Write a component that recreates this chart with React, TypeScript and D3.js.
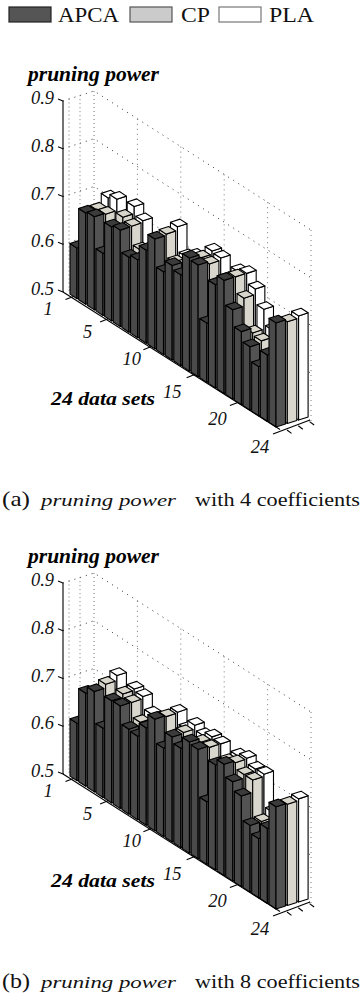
import React from "react";
import * as d3 from "d3";

const width = 362;
const height = 1001;

const dataSets = d3.range(1, 25);

// values, index 0 = data set 1
const apca4 = [0.606, 0.691, 0.695, 0.63, 0.697, 0.702, 0.657, 0.663, 0.695, 0.73, 0.673, 0.698, 0.69, 0.737, 0.734, 0.624, 0.716, 0.737, 0.687, 0.653, 0.633, 0.603, 0.639, 0.718];
const cp4 = [0.6, 0.69, 0.693, 0.66, 0.71, 0.703, 0.665, 0.66, 0.68, 0.733, 0.685, 0.69, 0.7, 0.73, 0.729, 0.65, 0.72, 0.737, 0.704, 0.643, 0.638, 0.6, 0.63, 0.713];
const pla4 = [0.61, 0.708, 0.717, 0.67, 0.725, 0.707, 0.655, 0.65, 0.69, 0.741, 0.69, 0.703, 0.71, 0.737, 0.734, 0.65, 0.729, 0.737, 0.716, 0.685, 0.653, 0.6, 0.63, 0.718];

const apca8 = [0.62, 0.695, 0.71, 0.645, 0.714, 0.715, 0.678, 0.675, 0.704, 0.734, 0.685, 0.72, 0.708, 0.733, 0.729, 0.631, 0.72, 0.733, 0.708, 0.69, 0.64, 0.624, 0.657, 0.714];
const cp8 = [0.61, 0.69, 0.718, 0.66, 0.721, 0.715, 0.685, 0.67, 0.69, 0.732, 0.7, 0.722, 0.71, 0.725, 0.726, 0.66, 0.72, 0.729, 0.716, 0.716, 0.641, 0.62, 0.65, 0.712];
const pla8 = [0.62, 0.7, 0.729, 0.67, 0.724, 0.72, 0.695, 0.68, 0.7, 0.734, 0.71, 0.73, 0.72, 0.729, 0.726, 0.67, 0.724, 0.731, 0.72, 0.721, 0.653, 0.62, 0.65, 0.716];

const seriesNames = ["APCA", "CP", "PLA"];
const valueTicks = [0.5, 0.6, 0.7, 0.8, 0.9];
const dataSetTicks = [1, 5, 10, 15, 20];
const dataSetLabels = [1, 5, 10, 15, 20, 24];
const wallTicks = [5, 10, 15, 20, 25];
const depthTicks = [0, 1, 2];

const faceColors = [
  { left: "#4a4a4a", right: "#535353", top: "#3b3b3b" },
  { left: "#d3d0c8", right: "#d9d6ce", top: "#d8d5cb" },
  { left: "#ffffff", right: "#ffffff", top: "#ffffff" }
];
const swatchColors = ["#555555", "#cbcbcb", "#ffffff"];
const swatchStrokes = ["#222222", "#555555", "#777777"];

// oblique projection of the bar3 plot
const nearX = d3.scaleLinear().domain([1, 24]).range([77, 276]);
const baseY = d3.scaleLinear().domain([1, 24]).range([298.7, 427]);
const depthX = d3.scaleLinear().domain([0, 2]).range([0, 22.6]);
const depthY = d3.scaleLinear().domain([0, 2]).range([0, -7]);
const barHeight = d3.scaleLinear().domain([0.5, 0.9]).range([0, 191]);
const axisY = d3.scaleLinear().domain([0.5, 0.9]).range([292, 101]);
const backX = d3.scaleLinear().domain([0, 25]).range([94, 311]);
const backY = d3.scaleLinear().domain([0, 25]).range([282, 421]);

const closed = d3.line().curve(d3.curveLinearClosed);

const left = [-7, -4.6];
const right = [9.5, -3.1];
const back = [left[0] + right[0], left[1] + right[1]];

// small nudges for the data set labels, they don't sit at a fixed distance from the axis
const labelNudge: Record<number, number[]> = {
  1: [-6, -4],
  5: [-1, -3],
  10: [0, -4],
  15: [-3, 1],
  20: [-1, 0],
  24: [7, 6]
};

function Bar({ i, s, v }: { i: number; s: number; v: number }) {
  const x = nearX(i) + depthX(s);
  const y0 = baseY(i) + depthY(s);
  const y1 = y0 - barHeight(v);
  const c = faceColors[s];
  const pts = {
    leftFace: [[x, y0], [x, y1], [x + left[0], y1 + left[1]], [x + left[0], y0 + left[1]]],
    rightFace: [[x, y0], [x, y1], [x + right[0], y1 + right[1]], [x + right[0], y0 + right[1]]],
    topFace: [[x, y1], [x + left[0], y1 + left[1]], [x + back[0], y1 + back[1]], [x + right[0], y1 + right[1]]]
  };
  return (
    <g stroke="#000" strokeWidth="1.1" strokeLinejoin="round">
      <path d={closed(pts.leftFace as any)!} fill={c.left} />
      <path d={closed(pts.rightFace as any)!} fill={c.right} />
      <path d={closed(pts.topFace as any)!} fill={c.top} />
    </g>
  );
}

function Walls() {
  const top = backY(0) - barHeight(0.9);
  return (
    <g fill="none">
      {valueTicks.map(v => (
        <path
          key={v}
          d={`M63,${axisY(v)}L94,${backY(0) - barHeight(v)}L311,${backY(25) - barHeight(v)}`}
          stroke="#333"
          strokeWidth="1"
          strokeDasharray="1 5"
        />
      ))}
      {[69, 80, 94].map(x => (
        <line key={x} x1={x} x2={x} y1={top + (94 - x) * 0.3} y2={290} stroke="#777" strokeDasharray="1 3" />
      ))}
      {wallTicks.map(t => (
        <line
          key={t}
          x1={backX(t)}
          x2={backX(t)}
          y1={backY(t) - barHeight(0.9)}
          y2={backY(t)}
          stroke="#777"
          strokeDasharray="1 4"
        />
      ))}
    </g>
  );
}

function Panel({ dy, series }: { dy: number; series: number[][] }) {
  return (
    <g transform={`translate(0,${dy})`}>
      <text x={28} y={81} fontFamily="Liberation Serif" fontWeight="bold" fontStyle="italic" fontSize={21} textLength={131} lengthAdjust="spacingAndGlyphs">
        pruning power
      </text>
      <Walls />
      {[2, 1, 0].map(s =>
        dataSets.map((d, k) => <Bar key={`${s}-${d}`} i={d} s={s} v={series[s][k]} />)
      )}
      <g stroke="#000" strokeWidth="1.1" fill="none">
        <line x1={63} x2={63} y1={axisY(0.9)} y2={axisY(0.5)} />
        {valueTicks.map(v => (
          <line key={v} x1={58} x2={63} y1={axisY(v) - 2} y2={axisY(v)} />
        ))}
        <line x1={63} y1={292} x2={280} y2={429.5} />
        <line x1={273} y1={434} x2={310} y2={420} />
        {dataSetTicks.map(t => {
          const x = nearX(t) - 3.5;
          const y = baseY(t) - 2.3;
          return <line key={t} x1={x} y1={y} x2={x - 8} y2={y + 3.2} />;
        })}
        {depthTicks.map(t => {
          const x = 287 + depthX(t);
          const y = 430 + depthY(t) * 1.2;
          return <line key={t} x1={x} y1={y} x2={x + 4.5} y2={y + 3.4} />;
        })}
      </g>
      <g fontFamily="Liberation Serif" fontStyle="italic" fontSize={18.5} fill="#111">
        {valueTicks.map(v => (
          <text key={v} x={54} y={axisY(v) + 3} textAnchor="end">
            {v.toFixed(1)}
          </text>
        ))}
        {dataSetLabels.map(t => (
          <text
            key={t}
            x={nearX(t) - 23 + labelNudge[t][0]}
            y={baseY(t) + 20 + labelNudge[t][1]}
            textAnchor="middle"
          >
            {t}
          </text>
        ))}
      </g>
      <text x={51} y={405} fontFamily="Liberation Serif" fontWeight="bold" fontStyle="italic" fontSize={18.5} textLength={104} lengthAdjust="spacingAndGlyphs">
        24 data sets
      </text>
    </g>
  );
}

function Caption({ y, tag, count }: { y: number; tag: string; count: number }) {
  return (
    <g fontFamily="Liberation Serif" fill="#111">
      <text x={2} y={y} fontSize={21} textLength={28} lengthAdjust="spacingAndGlyphs">
        {tag}
      </text>
      <text x={41} y={y} fontSize={17} fontStyle="italic" textLength={135} lengthAdjust="spacingAndGlyphs">
        pruning power
      </text>
      <text x={195} y={y} fontSize={18.5} textLength={165} lengthAdjust="spacingAndGlyphs">
        {`with ${count} coefficients`}
      </text>
    </g>
  );
}

const legendRects = [9, 130, 219];
const legendLabels = [
  { x: 58, w: 61 },
  { x: 181, w: 29 },
  { x: 269, w: 45 }
];

export default function App() {
  return (
    <svg width={width} height={height} style={{ position: "absolute", left: 0, top: 0 }}>
      <rect width={width} height={height} fill="#fff" />
      {seriesNames.map((name, k) => (
        <g key={name}>
          <rect x={legendRects[k]} y={7} width={42} height={15} fill={swatchColors[k]} stroke={swatchStrokes[k]} strokeWidth="1.2" />
          <text x={legendLabels[k].x} y={22} fontFamily="Liberation Serif" fontSize={22} textLength={legendLabels[k].w} lengthAdjust="spacingAndGlyphs" fill="#111">
            {name}
          </text>
        </g>
      ))}
      <Panel dy={0} series={[apca4, cp4, pla4]} />
      <Caption y={506} tag="(a)" count={4} />
      <Panel dy={482} series={[apca8, cp8, pla8]} />
      <Caption y={988} tag="(b)" count={8} />
    </svg>
  );
}
